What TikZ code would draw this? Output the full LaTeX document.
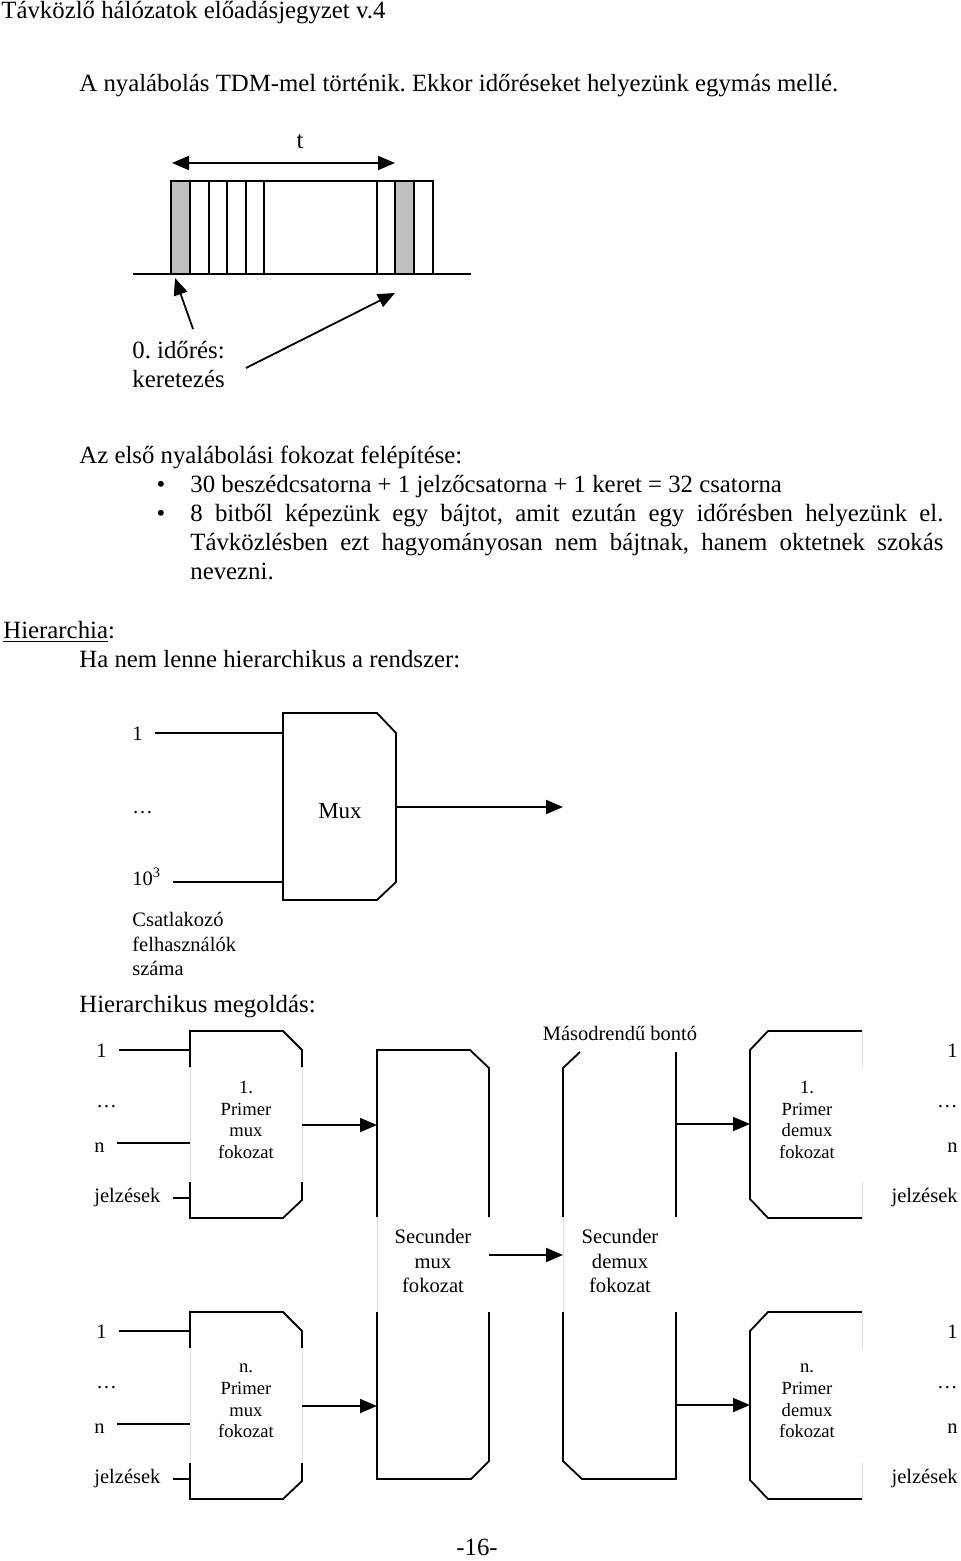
\documentclass[tikz,border=0pt]{standalone}
\usepackage{fontspec}
\setmainfont{Liberation Serif}
\usetikzlibrary{arrows.meta}

\begin{document}
\frenchspacing
\begin{tikzpicture}[x=0.5pt, y=-0.5pt,
	txt/.style={inner sep=0pt, font=\fontsize{12.4}{14.5}\selectfont},
	lab/.style={inner sep=0pt, font=\fontsize{10.25}{12.25}\selectfont},
	stage/.style={inner sep=0pt, align=center, font=\fontsize{9.3}{10.85}\selectfont},
	secstage/.style={inner sep=0pt, align=center, font=\fontsize{10.3}{12.25}\selectfont},
	wire/.style={line width=0.9pt},
	feed/.style={wire, shorten <=6pt},
	faint/.style={draw=black!12, line width=0.5pt},
	>={Triangle[length=8.5pt,width=7pt]}]

	\useasboundingbox (0,0) rectangle (960,1561);

	% page text
	\node[txt, anchor=base west] (title) at (1,19) {Távközlő hálózatok előadásjegyzet v.4};
	\node[txt, anchor=base west] (intro) at (79,92) {A nyalábolás TDM-mel történik. Ekkor időréseket helyezünk egymás mellé.};

	% TDM keret
	\fill[black!25] (171,181) rectangle (190,274);
	\fill[black!25] (395,181) rectangle (414,274);
	\draw[wire] (171,181) rectangle (433,274);
	\draw[wire] (190,181) -- (190,274);
	\draw[wire] (209,181) -- (209,274);
	\draw[wire] (227,181) -- (227,274);
	\draw[wire] (246,181) -- (246,274);
	\draw[wire] (264,181) -- (264,274);
	\draw[wire] (377,181) -- (377,274);
	\draw[wire] (395,181) -- (395,274);
	\draw[wire] (414,181) -- (414,274);
	\draw[wire] (133,274) -- (471,274);

	\node[txt, anchor=base] (t) at (300,149) {t};
	\coordinate (tleft) at (172,163);
	\coordinate (tright) at (395,163);
	\draw[wire, <->] (tleft) -- (tright);

	\node[txt, anchor=west, align=left] (slot0) at (132,365) {0. időrés:\\keretezés};
	\coordinate (slot0 a) at (193,329); \coordinate (frame a) at (175,278);
	\coordinate (slot0 b) at (246,368); \coordinate (frame b) at (395,293);
	\draw[wire, ->] (slot0 a) -- (frame a);
	\draw[wire, ->] (slot0 b) -- (frame b);

	% felsorolas
	\node[txt, anchor=base west] (first) at (79,463) {Az első nyalábolási fokozat felépítése:};
	\node[txt, anchor=base] (dot1) at (161,492) {\textbullet};
	\node[txt, anchor=base west] (item1) at (190,492) {30 beszédcsatorna + 1 jelzőcsatorna + 1 keret = 32 csatorna};
	\node[txt, anchor=base] (dot2) at (161,521) {\textbullet};
	\node[txt, anchor=base west] (item2a) at (190,521) {\makebox[376.5pt][s]{8 bitből képezünk egy bájtot, amit ezután egy időrésben helyezünk el.}};
	\node[txt, anchor=base west] (item2b) at (190,550) {\makebox[376.5pt][s]{Távközlésben ezt hagyományosan nem bájtnak, hanem oktetnek szokás}};
	\node[txt, anchor=base west] (item2c) at (190,579) {nevezni.};

	\node[txt, anchor=base west] (hier) at (3,638) {\underline{Hierarchia}:};
	\node[txt, anchor=base west] (flat) at (79,667) {Ha nem lenne hierarchikus a rendszer:};

	% egyetlen mux
	\draw[wire] (283,713) -- (377,713) -- (396,733) -- (396,882) -- (377,900) -- (283,900) -- cycle;
	\node[inner sep=0pt, font=\fontsize{11.5}{13}\selectfont] (mux) at (340,811) {Mux};
	\coordinate (mux in1) at (283,733);
	\coordinate (mux in2) at (283,882);
	\coordinate (mux out) at (396,807);
	\coordinate (mux end) at (563,807);

	\node[lab, anchor=base west] (u1) at (132,740) {1};
	\node[lab, anchor=base west] (udots) at (132,813) {…};
	\node[lab, anchor=base west] (uN) at (132,885) {10\textsuperscript{3}};
	\draw[feed] (u1.east |- mux in1) -- (mux in1);
	\draw[feed] (uN.east |- mux in2) -- (mux in2);
	\draw[wire, ->] (mux out) -- (mux end);
	\node[lab, anchor=west, align=left] (users) at (132,944) {Csatlakozó\\felhasználók\\száma};

	\node[txt, anchor=base west] (hiersol) at (79,1012) {Hierarchikus megoldás:};

	% 1. primer mux
	\draw[wire] (190,1067) -- (190,1031) -- (283,1031) -- (302,1050) -- (302,1067);
	\draw[wire] (190,1182) -- (190,1218) -- (283,1218) -- (302,1200) -- (302,1182);
	\draw[faint] (190,1067) -- (190,1182);
	\draw[faint] (302,1067) -- (302,1182);
	\node[stage] (pm1) at (246,1120) {1.\\Primer\\mux\\fokozat};
	\coordinate (pm1 in1) at (190,1050);
	\coordinate (pm1 in2) at (190,1143);
	\coordinate (pm1 in3) at (190,1198);
	\coordinate (pm1 out) at (302,1125);

	\node[lab, anchor=base west] (a1) at (96,1057) {1};
	\node[lab, anchor=base west] (adots) at (96,1107) {…};
	\node[lab, anchor=base west] (an) at (94,1152) {n};
	\node[lab, anchor=base west] (asig) at (94,1202) {jelzések};
	\draw[feed] (a1.east |- pm1 in1) -- (pm1 in1);
	\draw[feed] (an.east |- pm1 in2) -- (pm1 in2);
	\draw[feed] (asig.east |- pm1 in3) -- (pm1 in3);

	% n. primer mux
	\draw[wire] (190,1348) -- (190,1312) -- (283,1312) -- (302,1331) -- (302,1348);
	\draw[wire] (190,1463) -- (190,1499) -- (283,1499) -- (302,1481) -- (302,1463);
	\draw[faint] (190,1348) -- (190,1463);
	\draw[faint] (302,1348) -- (302,1463);
	\node[stage] (pmn) at (246,1401) {n.\\Primer\\mux\\fokozat};
	\coordinate (pmn in1) at (190,1331);
	\coordinate (pmn in2) at (190,1424);
	\coordinate (pmn in3) at (190,1479);
	\coordinate (pmn out) at (302,1406);

	\node[lab, anchor=base west] (b1) at (96,1338) {1};
	\node[lab, anchor=base west] (bdots) at (96,1388) {…};
	\node[lab, anchor=base west] (bn) at (94,1433) {n};
	\node[lab, anchor=base west] (bsig) at (94,1483) {jelzések};
	\draw[feed] (b1.east |- pmn in1) -- (pmn in1);
	\draw[feed] (bn.east |- pmn in2) -- (pmn in2);
	\draw[feed] (bsig.east |- pmn in3) -- (pmn in3);

	% secunder mux
	\draw[wire] (377,1217) -- (377,1050) -- (470,1050) -- (489,1068) -- (489,1217);
	\draw[wire] (489,1312) -- (489,1461) -- (471,1479) -- (377,1479) -- (377,1312);
	\draw[faint] (377,1217) -- (377,1312);
	\node[secstage] (sm) at (433,1261) {Secunder\\mux\\fokozat};
	\coordinate (sm in1) at (377,1125);
	\coordinate (sm in2) at (377,1406);
	\coordinate (sm out) at (489,1255);

	% secunder demux
	\draw[wire] (580,1052) -- (563,1068) -- (563,1217);
	\draw[wire] (676,1217) -- (676,1052);
	\draw[wire] (563,1312) -- (563,1461) -- (582,1479) -- (676,1479) -- (676,1312);
	\draw[faint] (563,1217) -- (563,1312);
	\node[secstage] (sd) at (620,1261) {Secunder\\demux\\fokozat};
	\node[lab, anchor=base] (bonto) at (620,1040) {Másodrendű bontó};
	\coordinate (sd in) at (563,1255);
	\coordinate (sd out1) at (676,1124);
	\coordinate (sd out2) at (676,1405);

	% 1. primer demux
	\draw[wire] (862,1031) -- (768,1031) -- (750,1050) -- (750,1199) -- (768,1218) -- (862,1218);
	\draw[faint] (862,1031) -- (862,1067);
	\draw[faint] (862,1182) -- (862,1218);
	\node[stage] (pd1) at (807,1120) {1.\\Primer\\demux\\fokozat};
	\coordinate (pd1 in) at (750,1124);

	\node[lab, anchor=base east] (c1) at (958,1057) {1};
	\node[lab, anchor=base east] (cdots) at (958,1107) {…};
	\node[lab, anchor=base east] (cn) at (958,1152) {n};
	\node[lab, anchor=base east] (csig) at (958,1202) {jelzések};

	% n. primer demux
	\draw[wire] (862,1312) -- (768,1312) -- (750,1331) -- (750,1480) -- (768,1499) -- (862,1499);
	\draw[faint] (862,1312) -- (862,1348);
	\draw[faint] (862,1463) -- (862,1499);
	\node[stage] (pdn) at (807,1401) {n.\\Primer\\demux\\fokozat};
	\coordinate (pdn in) at (750,1405);

	\node[lab, anchor=base east] (d1) at (958,1338) {1};
	\node[lab, anchor=base east] (ddots) at (958,1388) {…};
	\node[lab, anchor=base east] (dn) at (958,1433) {n};
	\node[lab, anchor=base east] (dsig) at (958,1483) {jelzések};

	% nyilak
	\draw[wire, ->] (pm1 out) -- (sm in1);
	\draw[wire, ->] (pmn out) -- (sm in2);
	\draw[wire, ->] (sm out) -- (sd in);
	\draw[wire, ->] (sd out1) -- (pd1 in);
	\draw[wire, ->] (sd out2) -- (pdn in);

	\node[txt, anchor=base] (page) at (477,1555) {-16-};

\end{tikzpicture}
\end{document}
